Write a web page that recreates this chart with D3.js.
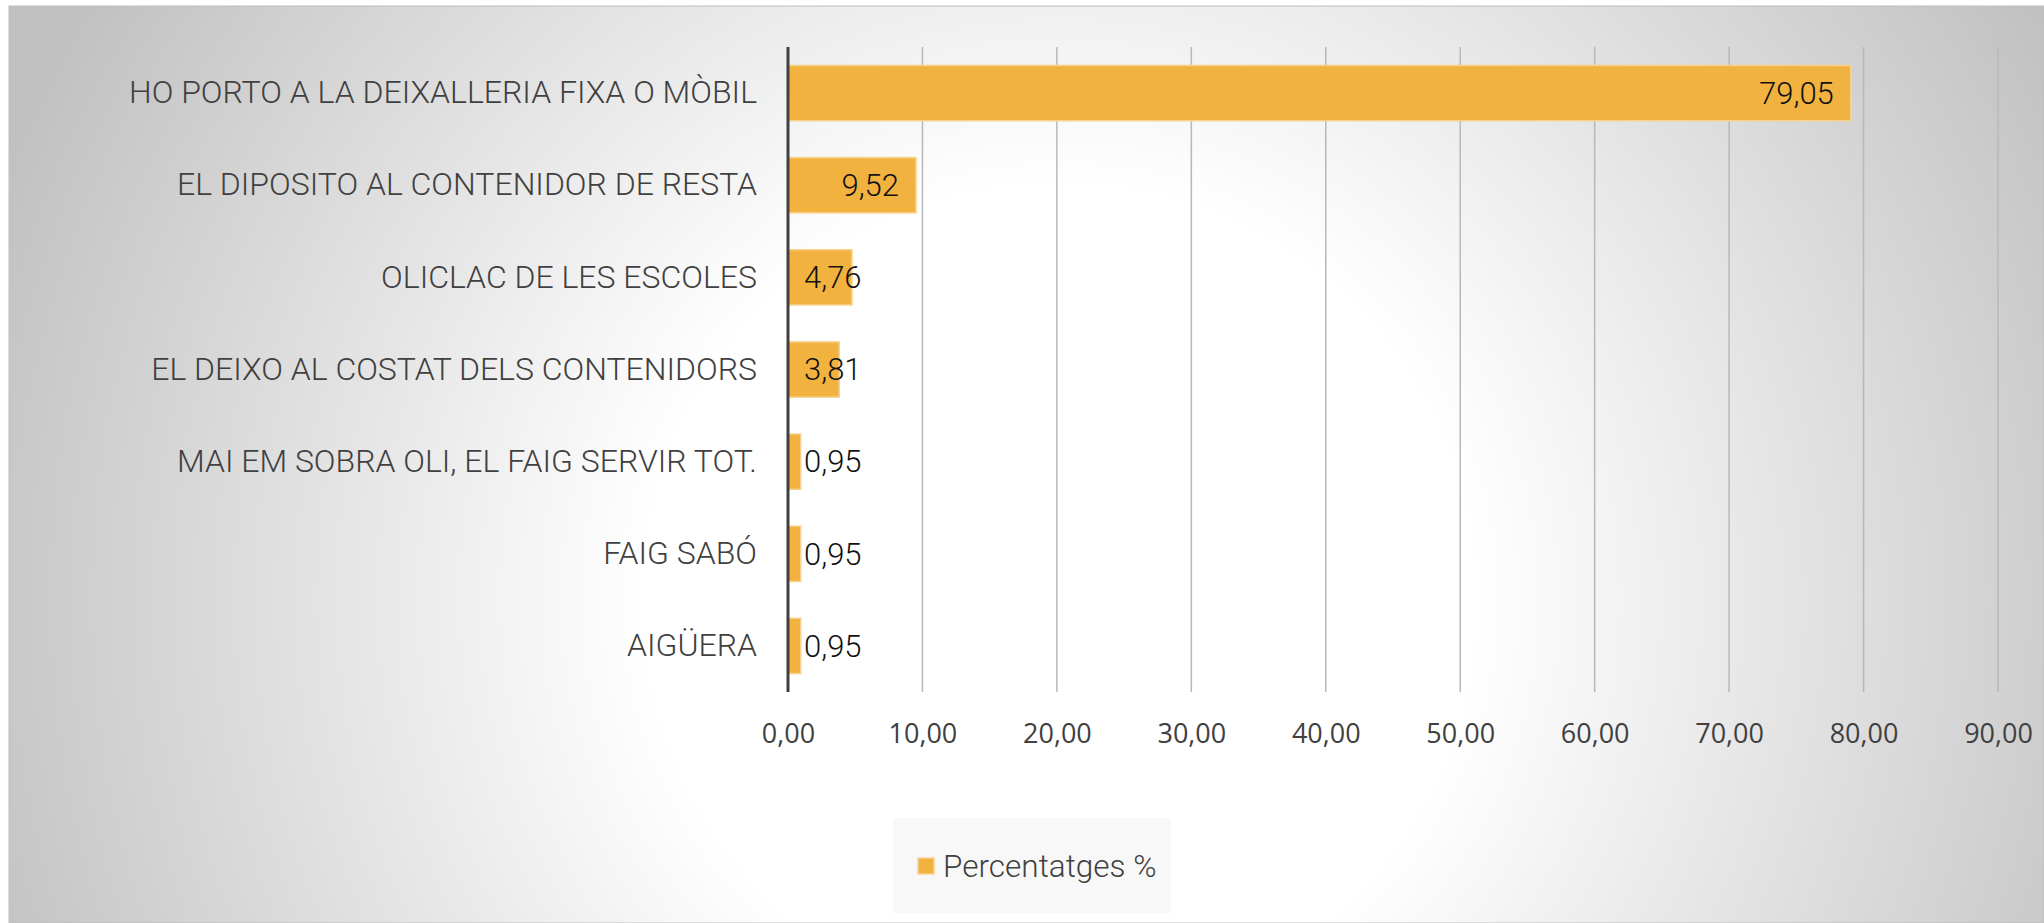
<!DOCTYPE html>
<html>
<head>
<meta charset="utf-8">
<script src="https://cdn.jsdelivr.net/npm/d3@7"></script>
<style>
  html, body { margin: 0; padding: 0; background: #fff; }
  #chart { width: 2044px; height: 923px; }
</style>
</head>
<body>
<div id="chart"></div>
<script>
//=====================================================
var categories = [
  "HO PORTO A LA DEIXALLERIA FIXA O MÒBIL",
  "EL DIPOSITO AL CONTENIDOR DE RESTA",
  "OLICLAC DE LES ESCOLES",
  "EL DEIXO AL COSTAT DELS CONTENIDORS",
  "MAI EM SOBRA OLI, EL FAIG SERVIR TOT.",
  "FAIG SABÓ",
  "AIGÜERA"
];
var values = [79.05, 9.52, 4.76, 3.81, 0.95, 0.95, 0.95];
var xTicks = [0, 10, 20, 30, 40, 50, 60, 70, 80, 90];
var seriesName = "Percentatges %";

//=====================================================
var width = 2044, height = 923;
var plot = { left: 788, right: 1998, top: 47, bottom: 692 };

var locale = d3.formatLocale({ decimal: ",", thousands: ".", grouping: [3], currency: ["", "€"] });
var fmt = locale.format(".2f");

var svg = d3.select("#chart").append("svg")
  .attr("width", width)
  .attr("height", height);

var defs = svg.append("defs");
var grad = defs.append("radialGradient")
  .attr("id", "bg")
  .attr("gradientUnits", "userSpaceOnUse")
  .attr("cx", 1060).attr("cy", 600).attr("r", 1150);
grad.append("stop").attr("offset", "0.36").attr("stop-color", "#ffffff");
grad.append("stop").attr("offset", "1").attr("stop-color", "#c0c0c0");

svg.append("rect")
  .attr("x", 9).attr("y", 6)
  .attr("width", width - 9).attr("height", height - 6)
  .attr("fill", "url(#bg)")
  .attr("stroke", "#bdbdbd")
  .attr("stroke-width", 1);

var x = d3.scaleLinear().domain([0, 90]).range([plot.left, plot.right]);
var y = d3.scaleBand().domain(categories)
  .range([plot.top, plot.bottom])
  .paddingInner(0.4).paddingOuter(0.2);

// gridlines
svg.append("g")
  .selectAll("line")
  .data(xTicks.slice(1))
  .enter().append("line")
  .attr("x1", function(d) { return x(d); })
  .attr("x2", function(d) { return x(d); })
  .attr("y1", plot.top).attr("y2", plot.bottom)
  .attr("stroke", "#b8b8b8")
  .attr("stroke-width", 1.5);

// x axis tick labels
var xAxis = d3.axisBottom(x).tickValues(xTicks).tickFormat(fmt).tickSize(0).tickPadding(0);
var gx = svg.append("g")
  .attr("transform", "translate(0," + (plot.bottom + 51) + ")")
  .call(xAxis);
gx.select(".domain").remove();
gx.selectAll("text")
  .attr("dy", 0)
  .attr("font-family", "'Open Sans', sans-serif")
  .attr("font-size", 27)
  .attr("fill", "#404040");

// bars
svg.append("g")
  .selectAll("rect")
  .data(values)
  .enter().append("rect")
  .attr("x", x(0))
  .attr("y", function(d, i) { return y(categories[i]); })
  .attr("width", function(d) { return x(d) - x(0); })
  .attr("height", y.bandwidth())
  .attr("fill", "#f1b240")
  .attr("stroke", "#f7d28e")
  .attr("stroke-width", 1.5);

// category labels
var yAxis = d3.axisLeft(y).tickSize(0).tickPadding(31);
var gy = svg.append("g")
  .attr("transform", "translate(" + x(0) + ",0)")
  .call(yAxis);
gy.select(".domain").remove();
gy.selectAll("text")
  .attr("font-family", "Roboto, sans-serif")
  .attr("font-weight", 300)
  .attr("font-size", 32)
  .attr("fill", "#404040");

// vertical axis line
svg.append("line")
  .attr("x1", x(0)).attr("x2", x(0))
  .attr("y1", plot.top).attr("y2", plot.bottom)
  .attr("stroke", "#404040")
  .attr("stroke-width", 3);

// data labels
var labels = svg.append("g")
  .selectAll("text")
  .data(values)
  .enter().append("text")
  .attr("y", function(d, i) { return y(categories[i]) + y.bandwidth() / 2; })
  .attr("dy", "0.35em")
  .attr("font-family", "Roboto, sans-serif")
  .attr("font-weight", 300)
  .attr("font-size", 31)
  .attr("fill", "#111")
  .text(function(d) { return fmt(d); });

labels.attr("x", function(d) {
  var w = this.getComputedTextLength();
  return Math.max(x(d) - 17 - w, x(0) + 16);
});

// legend
var legend = svg.append("g");
legend.append("rect")
  .attr("x", 893).attr("y", 818)
  .attr("width", 278).attr("height", 95)
  .attr("fill", "#f8f8f8");
legend.append("rect")
  .attr("x", 918).attr("y", 858)
  .attr("width", 16).attr("height", 16)
  .attr("fill", "#f1b240")
  .attr("stroke", "#f7d28e")
  .attr("stroke-width", 1.5);
legend.append("text")
  .attr("x", 943).attr("y", 866)
  .attr("dy", "0.35em")
  .attr("font-family", "Roboto, sans-serif")
  .attr("font-weight", 300)
  .attr("font-size", 31.5)
  .attr("fill", "#404040")
  .text(seriesName);
</script>
</body>
</html>
